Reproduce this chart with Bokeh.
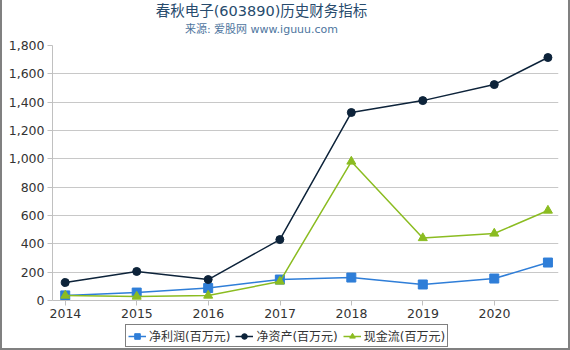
import pandas as pd
from bokeh.plotting import figure
from bokeh.layouts import column
from bokeh.models import (Range1d, FixedTicker, DatetimeTickFormatter, NumeralTickFormatter,
                          Legend, LegendItem, Label)
from bokeh.embed import file_html
from bokeh.resources import INLINE

title_text = "春秋电子(603890)历史财务指标"
subtitle_text = "来源: 爱股网 www.iguuu.com"

dates = ["2013-12-31", "2014-12-31", "2015-12-31", "2016-12-31", "2017-12-31",
         "2018-12-31", "2019-12-31", "2020-09-30"]
series_names = ["净利润(百万元)", "净资产(百万元)", "现金流(百万元)"]
net_profit = [36, 56, 88, 148, 162, 113, 155, 268]
net_assets = [127, 205, 148, 430, 1327, 1411, 1524, 1715]
cash_flow = [35, 28, 35, 134, 981, 441, 473, 635]
year_ticks = [2014, 2015, 2016, 2017, 2018, 2019, 2020]
y_ticks = [0, 200, 400, 600, 800, 1000, 1200, 1400, 1600, 1800]

x = pd.to_datetime(dates)
series = [net_profit, net_assets, cash_flow]
FONT = "DejaVu Sans, Noto Sans CJK SC"
colors = ["#2f7ed8", "#0d233a", "#8bbc21"]
markers = [("square", 9), ("circle", 8), ("triangle", 9)]

# title strip
p0 = figure(width=566, height=36, output_backend="svg", toolbar_location=None,
            x_axis_location=None, y_axis_location=None, min_border=0,
            x_range=Range1d(0, 1), y_range=Range1d(0, 1))
p0.grid.visible = False
p0.outline_line_color = None
p0.add_layout(Label(x=0.413, y=0.70, text=title_text, text_align="center",
                    text_baseline="middle", text_font=FONT, text_font_size="14.5px",
                    text_color="#274b6d"))
p0.add_layout(Label(x=0.413, y=0.20, text=subtitle_text, text_align="center",
                    text_baseline="middle", text_font=FONT, text_font_size="11px",
                    text_color="#4d759e"))

p = figure(width=566, height=288, output_backend="svg", toolbar_location=None,
           x_axis_type="datetime",
           x_range=Range1d(pd.Timestamp("2013-10-27"), pd.Timestamp("2020-11-23")),
           y_range=Range1d(0, 1800),
           min_border_left=50, min_border_right=10, min_border_top=9, min_border_bottom=24)
p.outline_line_color = None
p.xgrid.grid_line_color = None
p.ygrid.grid_line_color = "#c8c8c8"

tick_ms = [pd.Timestamp(f"{y}-01-01").value / 1e6 for y in year_ticks]
p.xaxis.ticker = FixedTicker(ticks=tick_ms)
p.xaxis.formatter = DatetimeTickFormatter(years="%Y", months="%Y", days="%Y", hours="%Y")
p.yaxis.ticker = FixedTicker(ticks=y_ticks)
p.yaxis.formatter = NumeralTickFormatter(format="0,0")
for ax in (p.xaxis, p.yaxis):
    ax.axis_line_color = "#c0c0c0"
    ax.major_tick_line_color = "#c0c0c0"
    ax.minor_tick_line_color = None
    ax.major_tick_in = 0
    ax.major_tick_out = 5
    ax.major_label_text_font = FONT
    ax.major_label_text_font_size = "12.5px"
    ax.major_label_text_color = "#333333"
p.yaxis.major_label_standoff = 3
p.xaxis.major_label_standoff = 3

for vals, col, (marker, size) in zip(series, colors, markers):
    p.line(x, vals, line_color=col, line_width=1.5)
    p.scatter(x, vals, marker=marker, size=size, fill_color=col, line_color=col)

# legend strip below the chart (series drawn out of its view, only the legend shows)
p2 = figure(width=566, height=24, output_backend="svg", toolbar_location=None,
            x_axis_location=None, y_axis_location=None, min_border=0,
            x_range=Range1d(0, 1), y_range=Range1d(-1, 0))
p2.grid.visible = False
p2.outline_line_color = None
items = []
for name, vals, col, (marker, size) in zip(series_names, series, colors, markers):
    r1 = p2.line(x, vals, line_color=col, line_width=1.5)
    r2 = p2.scatter(x, vals, marker=marker, size=size, fill_color=col, line_color=col)
    items.append(LegendItem(label=name, renderers=[r1, r2]))
legend = Legend(items=items, orientation="horizontal", location=(73, 1),
                border_line_color="black", border_line_width=1,
                padding=2, margin=0, spacing=5, glyph_width=18, glyph_height=14,
                label_standoff=3, label_text_font=FONT, label_text_font_size="12px",
                label_text_color="#333333", label_height=14,
                background_fill_color="white", background_fill_alpha=1)
p2.add_layout(legend, "center")

layout = column(p0, p, p2, spacing=0,
                styles={"border-left": "2px solid #808080", "border-right": "2px solid #808080",
                        "border-bottom": "2px solid #808080"})

open("out.html", "w").write(file_html(layout, INLINE))
